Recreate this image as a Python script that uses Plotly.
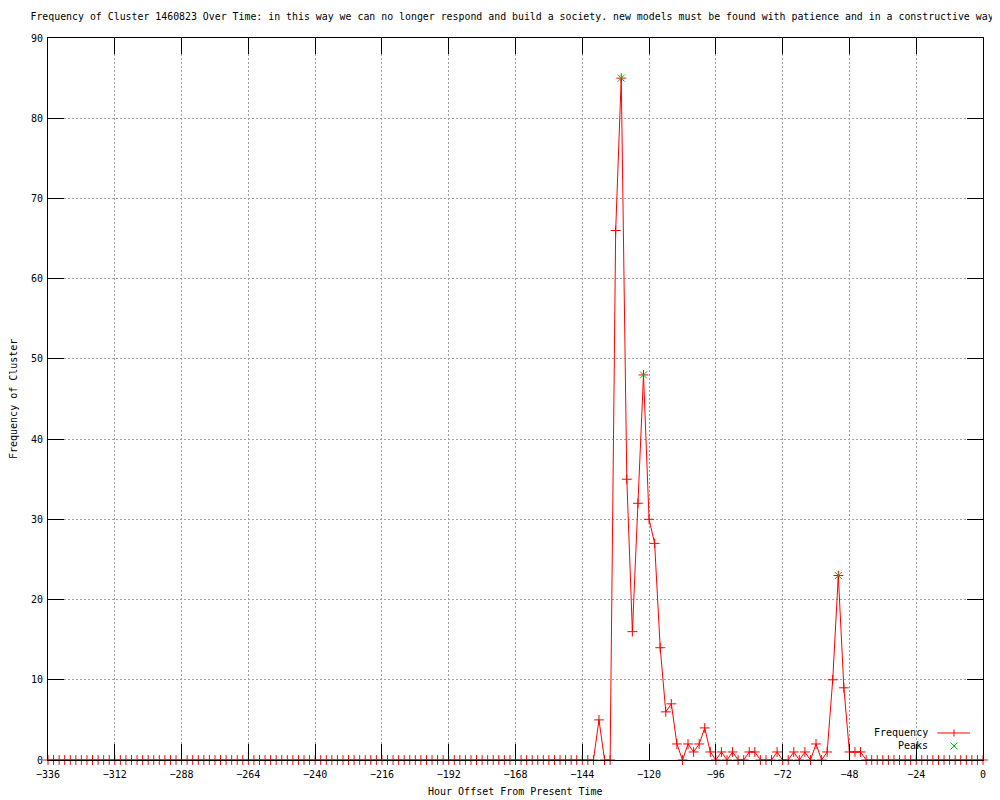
import plotly.graph_objects as go

# Hour offsets (every 2 hours from -336 to 0)
hours = list(range(-336, 1, 2))

# Frequency of cluster, 12 values per 24-hour block
frequency = [
    0, 0, 0, 0, 0, 0, 0, 0, 0, 0, 0, 0,        # -336 .. -314
    0, 0, 0, 0, 0, 0, 0, 0, 0, 0, 0, 0,        # -312 .. -290
    0, 0, 0, 0, 0, 0, 0, 0, 0, 0, 0, 0,        # -288 .. -266
    0, 0, 0, 0, 0, 0, 0, 0, 0, 0, 0, 0,        # -264 .. -242
    0, 0, 0, 0, 0, 0, 0, 0, 0, 0, 0, 0,        # -240 .. -218
    0, 0, 0, 0, 0, 0, 0, 0, 0, 0, 0, 0,        # -216 .. -194
    0, 0, 0, 0, 0, 0, 0, 0, 0, 0, 0, 0,        # -192 .. -170
    0, 0, 0, 0, 0, 0, 0, 0, 0, 0, 0, 0,        # -168 .. -146
    0, 0, 0, 5, 0, 0, 66, 85, 35, 16, 32, 48,  # -144 .. -122
    30, 27, 14, 6, 7, 2, 0, 2, 1, 2, 4, 1,     # -120 .. -98
    0, 1, 0, 1, 0, 0, 1, 1, 0, 0, 0, 1,        # -96 .. -74
    0, 0, 1, 0, 1, 0, 2, 0, 1, 10, 23, 9,      # -72 .. -50
    1, 1, 1, 0, 0, 0, 0, 0, 0, 0, 0, 0,        # -48 .. -26
    0, 0, 0, 0, 0, 0, 0, 0, 0, 0, 0, 0,        # -24 .. -2
    0,                                         # 0
]

peak_hours = [-130, -122, -52]
peak_values = [85, 48, 23]

x_ticks = list(range(-336, 1, 24))
y_ticks = list(range(0, 91, 10))

title_text = ("Frequency of Cluster 1460823 Over Time: in this way we can no longer respond "
              "and build a society. new models must be found with patience and in a constructive way")
x_title = "Hour Offset From Present Time"
y_title = "Frequency of Cluster"

FONT = "DejaVu Sans Mono"
TXT = dict(family=FONT, size=10, color="black")

fig = go.Figure()
fig.add_trace(go.Scatter(
    x=hours, y=frequency, mode="lines+markers", name="Frequency",
    line=dict(color="#ff0000", width=1),
    marker=dict(symbol="cross-thin", size=7, line=dict(color="#ff0000", width=1), color="#ff0000"),
    cliponaxis=False,
))
fig.add_trace(go.Scatter(
    x=peak_hours, y=peak_values, mode="markers", name="Peaks",
    marker=dict(symbol="x-thin", size=7, line=dict(color="#00c000", width=1), color="#00c000"),
    cliponaxis=False,
))

axis_common = dict(
    showline=True, mirror="ticks", linecolor="black", linewidth=1,
    ticks="inside", ticklen=16, tickcolor="black", tickwidth=1,
    showgrid=True, gridcolor="#a0a0a0", gridwidth=1, griddash="2px,2px",
    zeroline=False, tickfont=TXT, automargin=False,
)

fig.update_xaxes(range=[-336, 0], tickvals=x_ticks, ticklabelstandoff=5, **axis_common)
fig.update_yaxes(range=[0, 90], tickvals=y_ticks, ticklabelstandoff=2, **axis_common)

# Axis titles and gnuplot-style legend (text left of sample)
legend_x_text = 0.9433
row_freq = 0.0374
row_peak = 0.0194
sample_x = 0.969
annotations = [
    dict(text=x_title, xref="paper", yref="paper", x=0.5, y=-0.0443,
         xanchor="center", yanchor="middle", showarrow=False, font=TXT),
    dict(text=y_title, xref="paper", yref="paper", x=-0.0374, y=0.5, textangle=-90,
         xanchor="center", yanchor="middle", showarrow=False, font=TXT),
    dict(text="Frequency", xref="paper", yref="paper", x=legend_x_text, y=row_freq,
         xanchor="right", yanchor="middle", showarrow=False, font=TXT),
    dict(text="Peaks", xref="paper", yref="paper", x=legend_x_text, y=row_peak,
         xanchor="right", yanchor="middle", showarrow=False, font=TXT),
]
shapes = [
    dict(type="line", xref="paper", yref="paper", x0=0.9511, x1=0.9861, y0=row_freq, y1=row_freq,
         line=dict(color="#ff0000", width=1)),
    dict(type="line", xref="paper", yref="paper", xsizemode="pixel", xanchor=sample_x,
         x0=0, x1=0, ysizemode="pixel", yanchor=row_freq, y0=-3.5, y1=3.5,
         line=dict(color="#ff0000", width=1)),
    dict(type="line", xref="paper", yref="paper", xsizemode="pixel", xanchor=sample_x,
         x0=-3.5, x1=3.5, ysizemode="pixel", yanchor=row_peak, y0=-3.5, y1=3.5,
         line=dict(color="#00c000", width=1)),
    dict(type="line", xref="paper", yref="paper", xsizemode="pixel", xanchor=sample_x,
         x0=-3.5, x1=3.5, ysizemode="pixel", yanchor=row_peak, y0=3.5, y1=-3.5,
         line=dict(color="#00c000", width=1)),
]

fig.update_layout(
    width=992, height=792,
    margin=dict(l=40, r=17, t=30, b=40),
    paper_bgcolor="white", plot_bgcolor="white",
    showlegend=False,
    title=dict(text=title_text, x=0.5081, xanchor="center", y=1 - 9 / 792, yanchor="middle",
               font=dict(family=FONT, size=9.9, color="black")),
    annotations=annotations, shapes=shapes,
)

fig.write_html("out.html", config={"displayModeBar": False})
